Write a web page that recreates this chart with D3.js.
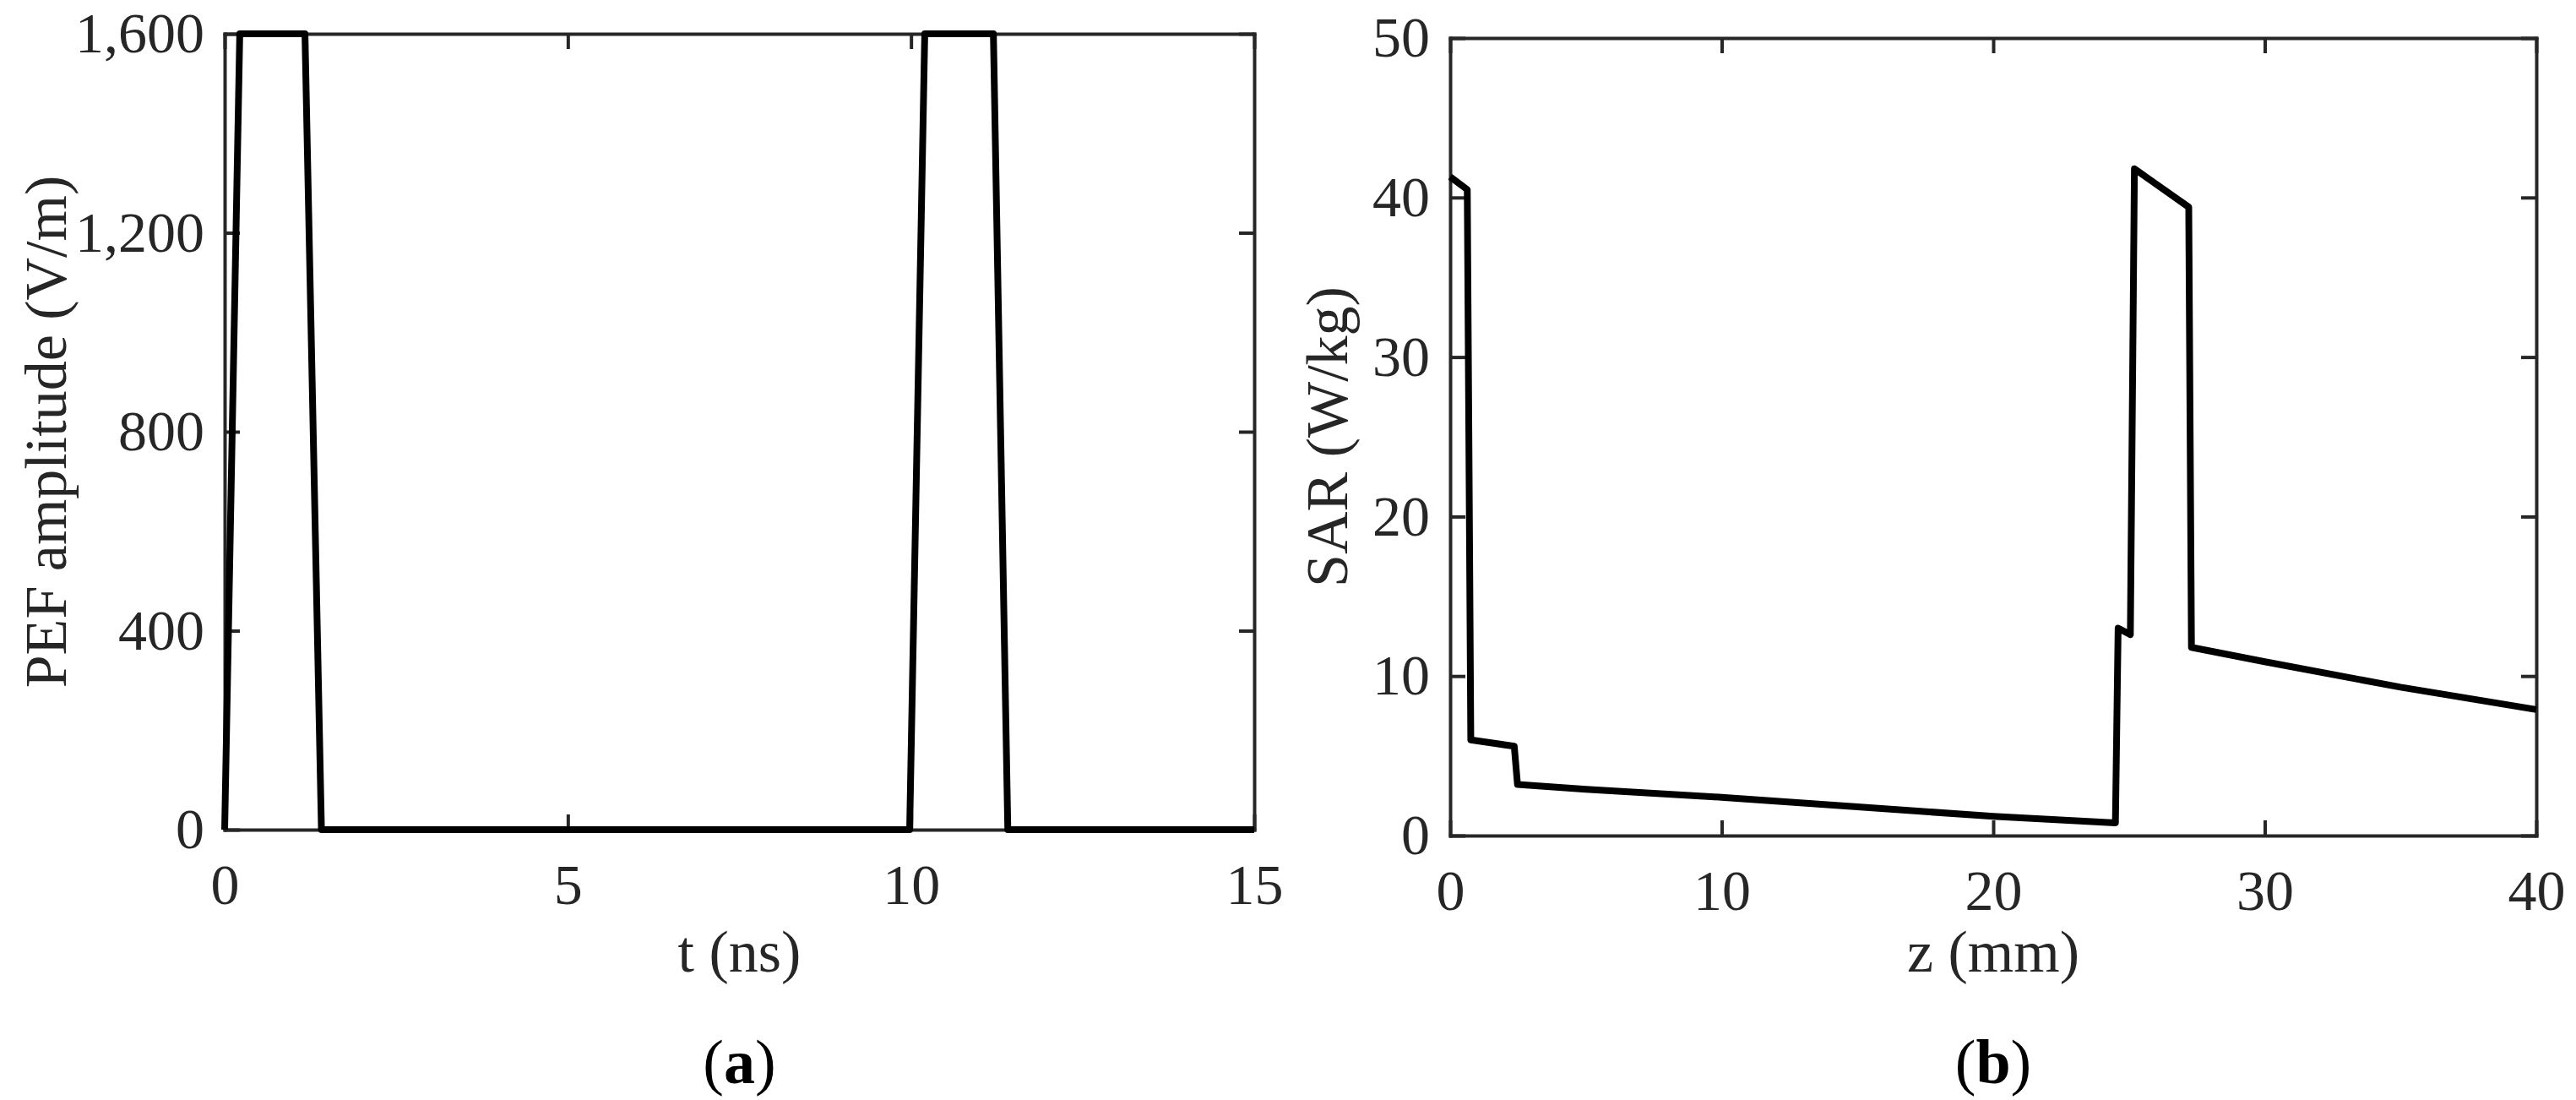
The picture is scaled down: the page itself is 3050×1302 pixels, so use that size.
<!DOCTYPE html>
<html><head><meta charset="utf-8">
<script src="https://cdn.jsdelivr.net/npm/d3@7"></script>
<style>body{margin:0;background:#fff}svg{display:block}</style></head>
<body><svg id="c" width="3050" height="1302"></svg>
<script>
const pefT=[0,0.22,1.17,1.41,9.98,10.2,11.2,11.41,15];
const pefV=[0,1600,1600,0,0,1600,1600,0,0];
const pefTicksX=[0,5,10,15];
const pefTicksY=[0,400,800,1200,1600];
const sarZ=[0,0.63,0.76,2.36,2.48,5,10,15,20,24.5,24.6,25.05,25.2,27.2,27.3,30,35,40];
const sarV=[41.3,40.5,6.0,5.6,3.2,2.9,2.4,1.8,1.2,0.8,13.0,12.6,41.8,39.4,11.8,10.9,9.3,7.9];
const sarTicksX=[0,10,20,30,40];
const sarTicksY=[0,10,20,30,40,50];

const svg=d3.select("#c");
const font="'Liberation Serif','Times New Roman',serif";
function panel(o){
  const x=d3.scaleLinear().domain(o.xd).range([o.l,o.r]);
  const y=d3.scaleLinear().domain(o.yd).range([o.b,o.t]);
  const g=svg.append("g");
  const ax=(sel)=>sel.selectAll("path,line").attr("stroke","#262626").attr("stroke-width",4);
  const tl=18;
  g.append("g").attr("transform",`translate(0,${o.b})`).call(d3.axisBottom(x).tickValues(o.tx).tickSize(-tl).tickPadding(40).tickSizeOuter(0)).call(ax);
  g.append("g").attr("transform",`translate(0,${o.t})`).call(d3.axisTop(x).tickValues(o.tx).tickSize(-tl).tickFormat("").tickSizeOuter(0)).call(ax);
  g.append("g").attr("transform",`translate(${o.l},0)`).call(d3.axisLeft(y).tickValues(o.ty).tickSize(-tl).tickPadding(24).tickSizeOuter(0)).call(ax);
  g.append("g").attr("transform",`translate(${o.r},0)`).call(d3.axisRight(y).tickValues(o.ty).tickSize(-tl).tickFormat("").tickSizeOuter(0)).call(ax);
  g.selectAll(".tick text").attr("font-family",font).attr("font-size",68).attr("fill","#262626");
  g.selectAll(".domain").attr("stroke-linecap","square");
  g.append("path").datum(o.xs.map((v,i)=>[v,o.ys[i]]))
    .attr("d",d3.line().x(d=>x(d[0])).y(d=>y(d[1])))
    .attr("fill","none").attr("stroke","#000").attr("stroke-width",8).attr("stroke-linejoin","round");
  const cx=(o.l+o.r)/2;
  g.append("text").attr("x",cx).attr("y",1150).attr("text-anchor","middle").attr("font-family",font).attr("font-size",70).attr("fill","#262626").text(o.xl);
  g.append("text").attr("transform",`translate(${o.yl_x},${(o.t+o.b)/2}) rotate(-90)`).attr("text-anchor","middle").attr("font-family",font).attr("font-size",70).attr("fill","#262626").text(o.ylab);
  const c=g.append("text").attr("x",cx).attr("y",1282).attr("text-anchor","middle").attr("font-family",font).attr("font-size",74).attr("fill","#000");
  c.append("tspan").text("(");c.append("tspan").attr("font-weight","bold").text(o.cap);c.append("tspan").text(")");
}
panel({l:266,r:1485,t:40,b:982,xd:[0,15],yd:[0,1600],tx:pefTicksX,ty:pefTicksY,xs:pefT,ys:pefV,xl:"t (ns)",ylab:"PEF amplitude (V/m)",yl_x:78,cap:"a"});
panel({l:1717,r:3003,t:45,b:989,xd:[0,40],yd:[0,50],tx:sarTicksX,ty:sarTicksY,xs:sarZ,ys:sarV,xl:"z (mm)",ylab:"SAR (W/kg)",yl_x:1595,cap:"b"});
</script></body></html>
